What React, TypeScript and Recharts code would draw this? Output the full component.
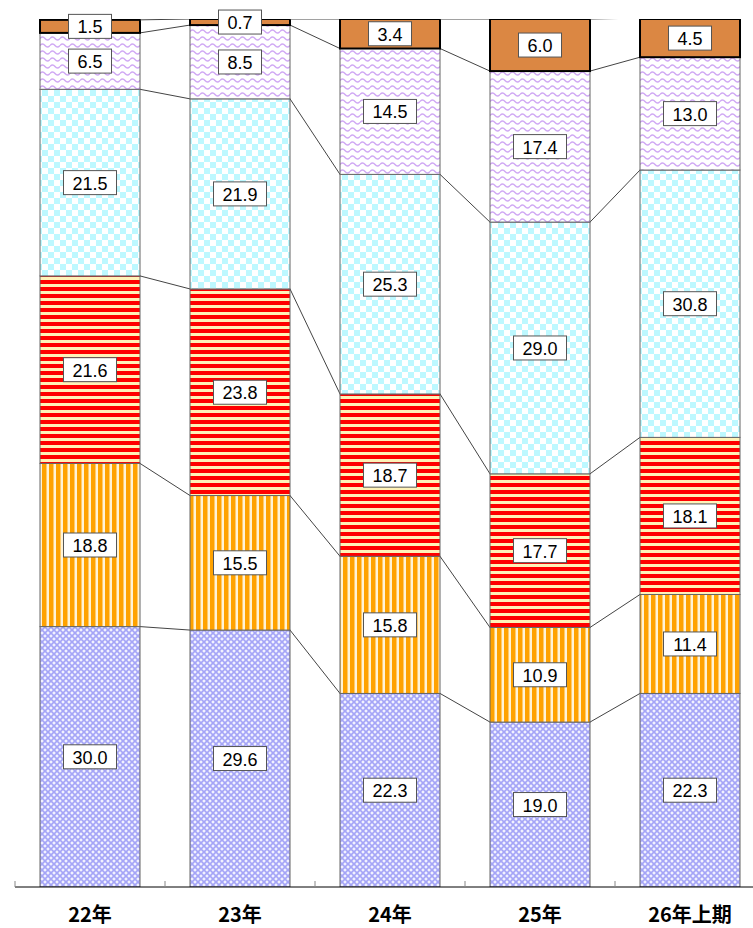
import React from "react";
import { Bar, BarChart, LabelList, XAxis, YAxis } from "recharts";

const categories = ["22年", "23年", "24年", "25年", "26年上期"];
const s1 = [30.0, 29.6, 22.3, 19.0, 22.3];
const s2 = [18.8, 15.5, 15.8, 10.9, 11.4];
const s3 = [21.6, 23.8, 18.7, 17.7, 18.1];
const s4 = [21.5, 21.9, 25.3, 29.0, 30.8];
const s5 = [6.5, 8.5, 14.5, 17.4, 13.0];
const s6 = [1.5, 0.7, 3.4, 6.0, 4.5];

const series = [s1, s2, s3, s4, s5, s6];
const keys = ["s1", "s2", "s3", "s4", "s5", "s6"];
const fills = ["url(#p1)", "url(#p2)", "url(#p3)", "url(#p4)", "url(#p5)", "#DB8743"];

const data = categories.map((name, i) => {
  const row: any = { name };
  keys.forEach((k, j) => (row[k] = series[j][i]));
  return row;
});

const W = 765;
const H = 928;
const M = { top: 19, right: 0, left: 15, bottom: 0 };
const BAND = (W - M.left - M.right) / categories.length;

const cumTo = (k: number, i: number) => {
  let c = 0;
  for (let j = 0; j <= k; j++) c += series[j][i];
  return c;
};

// each segment draws its own rect plus the link to the next bar's matching boundary
const makeShape = (k: number) => (props: any) => {
  const { x, y, width, height, index } = props;
  const value = series[k][index];
  const below = cumTo(k - 1, index);
  const bottom = y + height;
  const unit = height / value;
  let link = null;
  if (index < categories.length - 1) {
    const nextTop = cumTo(k, index + 1);
    const yNext = bottom - (nextTop - below) * unit;
    link = (
      <line x1={x + width} y1={y} x2={x + BAND} y2={yNext} stroke="#444" strokeWidth={1} />
    );
  }
  const last = k === series.length - 1;
  return (
    <g>
      <rect
        x={x}
        y={y}
        width={width}
        height={height}
        fill={fills[k]}
        stroke={last ? "#000" : "#666"}
        strokeWidth={last ? 2 : 1}
      />
      {link}
    </g>
  );
};

const ValueBox = (props: any) => {
  const { x, y, width, height, value } = props;
  const txt = Number(value).toFixed(1);
  const w = (txt.length - 1) * 10 + 5 + 18;
  const h = 24;
  const cx = x + width / 2;
  const cy = y + height / 2;
  return (
    <g>
      <rect x={cx - w / 2} y={cy - h / 2} width={w} height={h} fill="#fff" stroke="#555" strokeWidth={1} />
      <text
        x={cx}
        y={cy + 1}
        textAnchor="middle"
        dominantBaseline="central"
        fontSize={18}
        fontFamily="Liberation Sans, Arial, sans-serif"
        fill="#000"
      >
        {txt}
      </text>
    </g>
  );
};

const CatTick = (props: any) => {
  const { x, y, payload } = props;
  return (
    <g>
      <line x1={x - BAND / 2} y1={y} x2={x - BAND / 2} y2={y - 6} stroke="#888" strokeWidth={1} />
      <text
        x={x}
        y={y + 26}
        textAnchor="middle"
        dominantBaseline="central"
        fontSize={20}
        fontWeight="bold"
        fontFamily="Noto Sans CJK JP, sans-serif"
        fill="#000"
      >
        {payload.value}
      </text>
    </g>
  );
};

export default function App() {
  return (
    <div style={{ position: "absolute", left: 0, top: 0, width: 753, height: H, overflow: "hidden", background: "#fff" }}>
      <svg width={0} height={0} style={{ position: "absolute" }}>
        <defs>
          <pattern id="p1" width="6" height="6" patternUnits="userSpaceOnUse">
            <rect width="6" height="6" fill="#CACAFD" />
            <path d="M0 0 L6 6 M6 0 L0 6" stroke="#A4A4F6" strokeWidth="1.2" />
            <circle cx="3" cy="0" r="1" fill="#fff" />
            <circle cx="0" cy="3" r="1" fill="#fff" />
            <circle cx="6" cy="3" r="1" fill="#fff" />
            <circle cx="3" cy="6" r="1" fill="#fff" />
          </pattern>
          <pattern id="p2" width="7" height="7" patternUnits="userSpaceOnUse">
            <rect width="7" height="7" fill="#FFF3D6" />
            <rect width="4.5" height="7" fill="#FFA200" />
          </pattern>
          <pattern id="p3" width="7" height="7" patternUnits="userSpaceOnUse">
            <rect width="7" height="7" fill="#FFF2B8" />
            <rect width="7" height="4" fill="#FF0000" />
          </pattern>
          <pattern id="p4" width="12" height="12" patternUnits="userSpaceOnUse">
            <rect width="12" height="12" fill="#fff" />
            <rect width="6" height="6" fill="#BDF8FF" />
            <rect x="6" y="6" width="6" height="6" fill="#BDF8FF" />
          </pattern>
          <pattern id="p5" width="10" height="7" patternUnits="userSpaceOnUse">
            <rect width="10" height="7" fill="#fff" />
            <path d="M0 3.5 Q2.5 0.5 5 3.5 T10 3.5" fill="none" stroke="#D0A8F4" strokeWidth="1.4" />
          </pattern>
        </defs>
      </svg>
      <BarChart width={W} height={H} data={data} margin={M} barCategoryGap="16.67%">
        <XAxis
          dataKey="name"
          height={41}
          axisLine={{ stroke: "#000", strokeWidth: 1 }}
          tickLine={false}
          tickSize={0}
          tickMargin={0}
          interval={0}
          tick={<CatTick />}
        />
        <YAxis hide domain={[0, 100]} allowDataOverflow />
        {keys.map((k, i) => (
          <Bar key={k} dataKey={k} stackId="a" isAnimationActive={false} shape={makeShape(i)}>
            <LabelList dataKey={k} content={<ValueBox />} />
          </Bar>
        ))}
      </BarChart>
    </div>
  );
}
